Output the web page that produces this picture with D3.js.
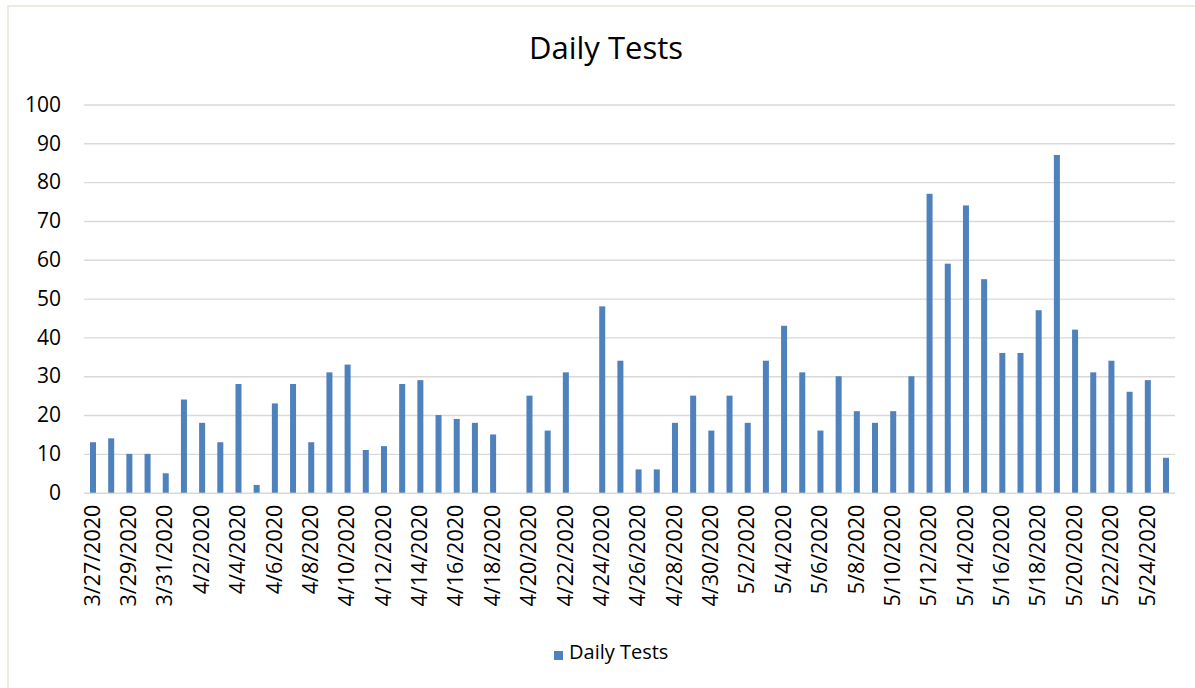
<!DOCTYPE html>
<html>
<head>
<meta charset="utf-8">
<script src="https://cdn.jsdelivr.net/npm/d3@7"></script>
<style>
  html, body { margin: 0; padding: 0; background: #fff; }
  svg { display: block; }
</style>
</head>
<body>
<svg id="chart" width="1195" height="688"></svg>
<script>
const dates = [
  "3/27/2020","3/28/2020","3/29/2020","3/30/2020","3/31/2020",
  "4/1/2020","4/2/2020","4/3/2020","4/4/2020","4/5/2020","4/6/2020","4/7/2020","4/8/2020","4/9/2020","4/10/2020",
  "4/11/2020","4/12/2020","4/13/2020","4/14/2020","4/15/2020","4/16/2020","4/17/2020","4/18/2020","4/19/2020","4/20/2020",
  "4/21/2020","4/22/2020","4/23/2020","4/24/2020","4/25/2020","4/26/2020","4/27/2020","4/28/2020","4/29/2020","4/30/2020",
  "5/1/2020","5/2/2020","5/3/2020","5/4/2020","5/5/2020","5/6/2020","5/7/2020","5/8/2020","5/9/2020","5/10/2020",
  "5/11/2020","5/12/2020","5/13/2020","5/14/2020","5/15/2020","5/16/2020","5/17/2020","5/18/2020","5/19/2020","5/20/2020",
  "5/21/2020","5/22/2020","5/23/2020","5/24/2020","5/25/2020"
];
const dailyTests = [
  13,14,10,10,5,
  24,18,13,28,2,23,28,13,31,33,
  11,12,28,29,20,19,18,15,0,25,
  16,31,0,48,34,6,6,18,25,16,
  25,18,34,43,31,16,30,21,18,21,
  30,77,59,74,55,36,36,47,87,42,
  31,34,26,29,9
];
const yTicks = [0,10,20,30,40,50,60,70,80,90,100];
const xTickLabels = dates.filter((d, i) => i % 2 === 0);
const seriesName = "Daily Tests";
const chartTitle = "Daily Tests";

(function () {
const FONT = "'Open Sans', 'Noto Sans', sans-serif";
const svg = d3.select("#chart");

// chart area border
svg.append("rect")
  .attr("x", 8).attr("y", 6)
  .attr("width", 1200).attr("height", 700)
  .attr("fill", "none")
  .attr("stroke", "#EFEBE0")
  .attr("stroke-width", 2);

const pLeft = 84, pRight = 1175, pTop = 104.5, pBottom = 492.7;

const x = d3.scaleBand().domain(dates).range([pLeft, pRight]).paddingInner(0.67).paddingOuter(0.33);
const y = d3.scaleLinear().domain([0, 100]).range([pBottom, pTop]);

// gridlines
const yAxis = d3.axisLeft(y).tickValues(yTicks).tickSize(-(pRight - pLeft)).tickPadding(23);
const gy = svg.append("g").attr("transform", `translate(${pLeft},0)`).call(yAxis);
gy.select(".domain").remove();
gy.selectAll(".tick line").attr("stroke", "#D9D9D9").attr("stroke-width", 1.4);
gy.selectAll(".tick text")
  .attr("fill", "#000")
  .style("font-family", FONT)
  .style("font-size", "21px");

// bars
svg.append("g").selectAll("rect")
  .data(dates)
  .join("rect")
  .attr("x", d => x(d))
  .attr("width", x.bandwidth())
  .attr("y", (d, i) => y(dailyTests[i]))
  .attr("height", (d, i) => y(0) - y(dailyTests[i]))
  .attr("fill", "#4F81BD");

// x axis labels
const xAxis = d3.axisBottom(x).tickValues(xTickLabels).tickSize(0).tickPadding(0);
const gx = svg.append("g").attr("transform", `translate(0,${pBottom})`).call(xAxis);
gx.select(".domain").remove();
gx.selectAll(".tick text")
  .attr("fill", "#000")
  .style("font-family", FONT)
  .style("font-size", "21.5px")
  .attr("text-anchor", "end")
  .attr("transform", "translate(-1,12) rotate(-90)")
  .attr("x", 0)
  .attr("y", 0)
  .attr("dy", "0.36em");

// title
svg.append("text")
  .attr("x", 606).attr("y", 59)
  .attr("text-anchor", "middle")
  .attr("fill", "#000")
  .style("font-family", FONT)
  .style("font-size", "31px")
  .text(chartTitle);

// legend
svg.append("rect")
  .attr("x", 554).attr("y", 651)
  .attr("width", 9).attr("height", 9)
  .attr("fill", "#4F81BD");
svg.append("text")
  .attr("x", 569).attr("y", 659)
  .attr("fill", "#000")
  .style("font-family", FONT)
  .style("font-size", "20px")
  .text(seriesName);
})();
</script>
</body>
</html>
